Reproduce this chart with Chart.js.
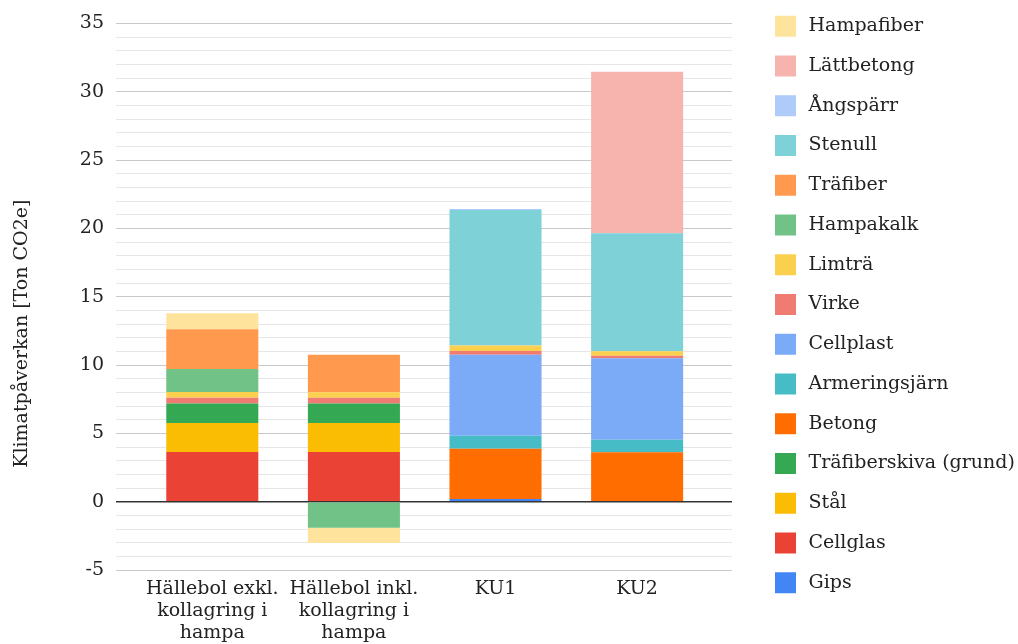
<!DOCTYPE html>
<html lang="sv">
<head>
<meta charset="utf-8">
<title>Klimatpåverkan per material</title>
<script src="https://cdn.jsdelivr.net/npm/chart.js@4.4.1/dist/chart.umd.min.js"></script>
<style>
  html, body { margin: 0; padding: 0; background: #fff; }
  #wrap { width: 1018px; height: 644px; }
</style>
</head>
<body>
<div id="wrap"><canvas id="chart" width="1018" height="644"></canvas></div>
<script>
/* Klimatpåverkan [Ton CO2e] — staplat stapeldiagram per material */

// Kategorier på x-axeln
const categories = [
  ['Hällebol exkl.', 'kollagring i', 'hampa'],
  ['Hällebol inkl.', 'kollagring i', 'hampa'],
  'KU1',
  'KU2'
];

const yTitle = 'Klimatpåverkan [Ton CO2e]';

// Värden per material (ton CO2e)
const gips          = [0,     0,     0.20,  0];
const cellglas      = [3.63,  3.63,  0,     0];
const stal          = [2.12,  2.12,  0,     0];
const trafiberskiva = [1.44,  1.44,  0,     0];
const betong        = [0,     0,     3.67,  3.61];
const armering      = [0,     0,     0.95,  0.92];
const cellplast     = [0,     0,     5.93,  5.97];
const virke         = [0.41,  0.41,  0.27,  0.17];
const limtra        = [0.42,  0.41,  0.41,  0.34];
const hampakalk     = [1.68, -1.90,  0,     0];
const trafiber      = [2.92,  2.75,  0,     0];
const stenull       = [0,     0,     9.92,  8.63];
const angsparr      = [0,     0,     0.07,  0];
const lattbetong    = [0,     0,     0,     11.82];
const hampafiber    = [1.17, -1.12,  0,     0];

// Staplingsordning nerifrån och upp
const seriesNames = [
  'Gips', 'Cellglas', 'Stål', 'Träfiberskiva (grund)', 'Betong', 'Armeringsjärn',
  'Cellplast', 'Virke', 'Limträ', 'Hampakalk', 'Träfiber', 'Stenull', 'Ångspärr',
  'Lättbetong', 'Hampafiber'
];
const seriesValues = [
  gips, cellglas, stal, trafiberskiva, betong, armering,
  cellplast, virke, limtra, hampakalk, trafiber, stenull, angsparr,
  lattbetong, hampafiber
];
const seriesColors = [
  '#4285F4', '#EA4335', '#FBBC04', '#34A853', '#FF6D01', '#46BDC6',
  '#7BAAF7', '#F07B72', '#FCD04F', '#71C287', '#FF994D', '#7ED1D7', '#AECBFA',
  '#F7B4AE', '#FDE39C'
];

const yTicks = { min: -5, max: 35, step: 1, labelEvery: 5 };

Chart.defaults.font.family = "'DejaVu Serif', serif";
Chart.defaults.font.size = 19;
Chart.defaults.color = '#222';

const datasets = seriesNames.map((name, s) => ({
  label: name,
  data: seriesValues[s].map((v, i) => ({ x: i, y: v })),
  backgroundColor: seriesColors[s],
  borderWidth: 0,
  barPercentage: 0.65,
  categoryPercentage: 1
}));

// Axeltiteln centreras över diagramytan inkl. kategorietiketter
const yTitlePlugin = {
  id: 'yTitle',
  afterDraw(chart) {
    const { ctx, chartArea } = chart;
    ctx.save();
    ctx.translate(22.5, (chartArea.top + chart.height) / 2);
    ctx.rotate(-Math.PI / 2);
    ctx.font = "19px 'DejaVu Serif'";
    ctx.fillStyle = '#222';
    ctx.textAlign = 'center';
    ctx.textBaseline = 'middle';
    ctx.fillText(yTitle, 0, 0);
    ctx.restore();
  }
};

const hiddenGap = (axis, position, fit) => ({
  axis, position, type: 'linear', display: true,
  grid: { display: false, drawTicks: false }, border: { display: false }, ticks: { display: false },
  afterFit: fit
});

new Chart(document.getElementById('chart'), {
  type: 'bar',
  data: { datasets },
  plugins: [yTitlePlugin],
  options: {
    responsive: false,
    animation: false,
    layout: { padding: 0 },
    plugins: {
      tooltip: { enabled: false },
      legend: {
        position: 'right',
        align: 'start',
        reverse: true,
        maxWidth: 258.75,
        labels: {
          boxWidth: 27,
          boxHeight: 27,
          padding: 12.75,
          color: '#222',
          font: { size: 19 },
          generateLabels(chart) {
            return Chart.defaults.plugins.legend.labels.generateLabels(chart).map(item => {
              item.strokeStyle = '#fff';
              item.lineWidth = 6;
              return item;
            });
          }
        }
      }
    },
    scales: {
      x: {
        type: 'linear',
        stacked: true,
        offset: false,
        min: -0.68,
        max: 3.67,
        afterFit: s => { s.height = 74; },
        grid: { display: false, drawTicks: false, offset: false },
        border: { display: false },
        ticks: {
          stepSize: 1,
          includeBounds: false,
          autoSkip: false,
          maxRotation: 0,
          padding: 8.5,
          font: { size: 19, lineHeight: 1.15 },
          callback: v => categories[v] ?? ''
        }
      },
      y: {
        stacked: true,
        min: yTicks.min,
        max: yTicks.max,
        afterFit: s => { s.width = 116; },
        border: { display: false },
        grid: {
          drawTicks: false,
          color: ctx => ctx.tick.value === 0 ? '#333333'
            : ctx.tick.value % yTicks.labelEvery === 0 ? '#c8c8c8' : '#e6e6e6',
          lineWidth: ctx => ctx.tick.value === 0 ? 1.5 : 1
        },
        ticks: {
          stepSize: yTicks.step,
          autoSkip: false,
          padding: 12,
          callback: v => v % yTicks.labelEvery === 0 ? v : ''
        }
      },
      gapTop: hiddenGap('x', 'top', s => { s.height = 23.3; }),
      gapRight: hiddenGap('y', 'right', s => { s.width = 27.25; })
    }
  }
});
</script>
</body>
</html>
